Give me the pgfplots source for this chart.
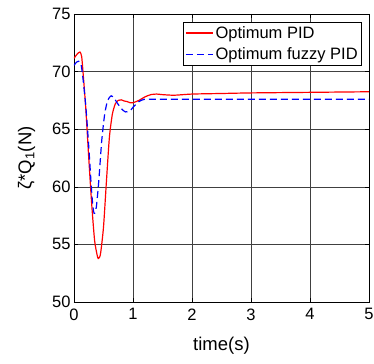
\documentclass[border=0pt]{standalone}
\usepackage{fontspec}
\setmainfont{Liberation Sans}
\usepackage{pgfplots}
\pgfplotsset{compat=1.18}
\begin{document}
\begin{tikzpicture}
\begin{axis}[
  name=ax,
  scale only axis,
  width=295bp, height=288bp,
  xmin=0, xmax=5, ymin=50, ymax=75,
  xtick={0,1,2,3,4,5}, ytick={50,55,60,65,70,75},
  tick align=inside,
  tick style={black, line width=0.5pt},
  major tick length=4bp,
  grid=major,
  major grid style={black!75, line width=0.5pt},
  axis line style={black, line width=0.6pt},
  /pgf/number format/assume math mode=true,
  tick label style={font=\fontsize{16.5bp}{18bp}\selectfont},
  xticklabel style={yshift=-3bp},
  label style={font=\fontsize{18.5bp}{21bp}\selectfont},
  xlabel={time(s)},
  ylabel={ζ*Q\textsubscript{1}(N)},
  xlabel style={yshift=-10bp},
  ylabel style={yshift=10bp},
  legend style={at={(0.976,0.972)}, anchor=north east, draw=black, line width=0.5pt,
    font=\fontsize{16.5bp}{18bp}\selectfont, inner sep=2bp, row sep=4bp, cells={anchor=west}},
  legend image code/.code={\draw[#1] (0bp,0bp) -- (27bp,0bp);},
  clip=true,
]
\addplot[red, line width=1.2pt, smooth, tension=0.4] coordinates {
(0,71.15) (0.05,71.5) (0.1,71.7) (0.13,71.3) (0.16,69.5) (0.2,66.8) (0.25,62.5) (0.3,58.5) (0.35,55.3) (0.4,53.9) (0.42,53.8) (0.45,54.2) (0.5,56.5) (0.55,60.5) (0.6,64.3) (0.65,66.3) (0.7,67.2) (0.75,67.5) (0.8,67.55) (0.85,67.45) (0.9,67.4) (0.95,67.3) (1.0,67.3) (1.1,67.5) (1.2,67.8) (1.3,68.0) (1.4,68.05) (1.5,68.0) (1.7,67.95) (2.0,68.05) (2.5,68.1) (3,68.15) (4,68.2) (5,68.25)
};
\addlegendentry{Optimum PID}
\addplot[blue, line width=1.2pt, dash pattern=on 7bp off 4bp, smooth, tension=0.4] coordinates {
(0,70.55) (0.04,70.8) (0.08,70.9) (0.12,70.6) (0.15,69.5) (0.2,67) (0.25,63.5) (0.3,59.5) (0.33,57.9) (0.35,57.7) (0.38,58.3) (0.42,60.5) (0.47,64.0) (0.52,66.3) (0.57,67.5) (0.63,67.9) (0.68,67.7) (0.73,67.3) (0.8,66.8) (0.87,66.5) (0.95,66.6) (1.0,66.9) (1.1,67.4) (1.2,67.6) (1.4,67.6) (2,67.6) (5,67.6)
};
\addlegendentry{Optimum fuzzy PID}
\end{axis}
\pgfresetboundingbox
\path ([shift={(-74bp,-62bp)}]ax.south west) rectangle ([shift={(5bp,14bp)}]ax.north east);
\end{tikzpicture}
\end{document}
